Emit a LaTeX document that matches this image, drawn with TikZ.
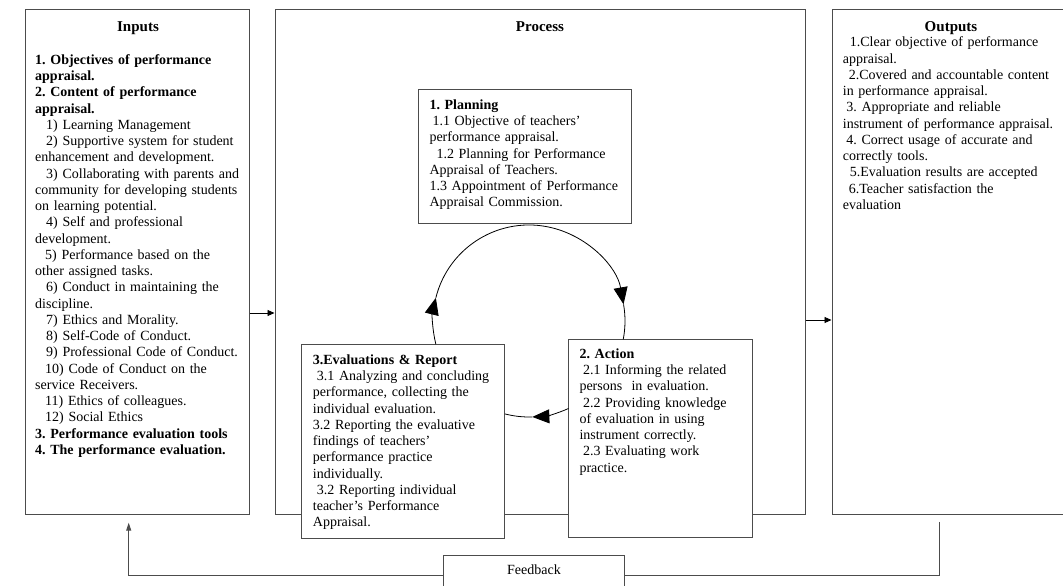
\documentclass[tikz,border=0pt]{standalone}
\usepackage{fontspec}
\setmainfont{Liberation Serif}
\usetikzlibrary{arrows.meta,calc}
\newcommand\myind[1]{\hspace*{#1pt}}
\frenchspacing
\begin{document}
\begin{tikzpicture}[x=1pt,y=1pt,
  frame/.style={draw=black!70, line width=1pt, rectangle, inner sep=0pt},
  innerbox/.style={frame, fill=white},
  txt/.style={anchor=base west, align=left, inner sep=0pt, text width=#1, font=\fontsize{14}{16.25}\selectfont\frenchspacing},
  ttl/.style={anchor=base, inner sep=0pt, font=\fontsize{15}{18}\selectfont\bfseries},
  link/.style={draw=black, line width=0.9pt, -{Triangle[length=7pt,width=6pt]}},
  fbline/.style={draw=black!70, line width=1pt},
  cyc/.style={draw=black, line width=0.8pt},
  cyctip/.style={cyc, -{Triangle[length=17pt,width=14pt]}}
]
\clip (0,0) rectangle (1063,586);
\useasboundingbox (0,0) rectangle (1063,586);

% main boxes
\node[frame, minimum width=224, minimum height=505] (inputs) at (137,323.5) {};
\node[frame, minimum width=530, minimum height=505] (process) at (540,323.5) {};
\node[frame, minimum width=243, minimum height=505] (outputs) at (953.5,323.5) {};

% inner boxes
\node[innerbox, minimum width=213, minimum height=134] (plan) at (524.5,429) {};
\node[innerbox, minimum width=203.3, minimum height=193.3] (eval) at (403.3,144.35) {};
\node[innerbox, minimum width=184, minimum height=198.4] (action) at (660.3,147.5) {};
\node[innerbox, minimum width=181, minimum height=50] (fb) at (533.5,5) {};

% titles
\node[ttl] (tin) at (138,554.5) {Inputs};
\node[ttl] (tproc) at (540,554.5) {Process};
\node[ttl] (tout) at (951,554.5) {Outputs};
\node[anchor=base, inner sep=0pt, font=\fontsize{14}{16}\selectfont] (tfb) at (534,11) {Feedback};

% inputs text
\node[txt=250pt] (intext) at (35,521.5) {%
\textbf{1. Objectives of performance}\\
\textbf{appraisal.}\\
\textbf{2. Content of performance}\\
\textbf{appraisal.}\\
\myind{11}1) Learning Management\\
\myind{11}2) Supportive system for student\\
enhancement and development.\\
\myind{11}3) Collaborating with parents and\\
community for developing students\\
on learning potential.\\
\myind{11}4) Self and professional\\
development.\\
\myind{10}5) Performance based on the\\
other assigned tasks.\\
\myind{11}6) Conduct in maintaining the\\
discipline.\\
\myind{11}7) Ethics and Morality.\\
\myind{11}8) Self-Code of Conduct.\\
\myind{11}9) Professional Code of Conduct.\\
\myind{10}10) Code of Conduct on the\\
service Receivers.\\
\myind{10}11) Ethics of colleagues.\\
\myind{10}12) Social Ethics\\
\textbf{3. Performance evaluation tools}\\
\textbf{4. The performance evaluation.}};

% outputs text
\node[txt=250pt] (outtext) at (842.7,539) {%
\myind{7}1.Clear objective of performance\\
appraisal.\\
\myind{6}2.Covered and accountable content\\
in performance appraisal.\\
\myind{3.5}3. Appropriate and reliable\\
instrument of performance appraisal.\\
\myind{3.5}4. Correct usage of accurate and\\
correctly tools.\\
\myind{7}5.Evaluation results are accepted\\
\myind{6}6.Teacher satisfaction the\\
evaluation};

% planning text
\node[txt=230pt] (plantext) at (429.3,476.5) {%
\textbf{1. Planning}\\
\myind{3}1.1 Objective of teachers’\\
performance appraisal.\\
\myind{7}1.2 Planning for Performance\\
Appraisal of Teachers.\\
1.3 Appointment of Performance\\
Appraisal Commission.};

% evaluation text
\node[txt=230pt] (evaltext) at (312.7,221.5) {%
\textbf{3.Evaluations \& Report}\\
\myind{4}3.1 Analyzing and concluding\\
performance, collecting the\\
individual evaluation.\\
3.2 Reporting the evaluative\\
findings of teachers’\\
performance practice\\
individually.\\
\myind{4}3.2 Reporting individual\\
teacher’s Performance\\
Appraisal.};

% action text
\node[txt=230pt] (actiontext) at (579.3,227.5) {%
\textbf{2. Action}\\
\myind{3.5}2.1 Informing the related\\
persons\ \ in evaluation.\\
\myind{3.5}2.2 Providing knowledge\\
of evaluation in using\\
instrument correctly.\\
\myind{3.5}2.3 Evaluating work\\
practice.};

% input/output connectors
\coordinate (inY) at (0,273);
\coordinate (outY) at (0,266);
\draw[link] (inputs.east |- inY) -- (process.west |- inY);
\draw[link] (process.east |- outY) -- (outputs.west |- outY);

% feedback loop
\coordinate (fbR) at (939,64);
\coordinate (fbL) at (128.7,63.3);
\coordinate (fbY) at (0,10);
\draw[fbline] (fbR) |- (fb.east |- fbY);
\draw[fbline, -{Triangle[length=8pt,width=5pt]}] (fb.west |- fbY) -| (fbL);

% cycle
\coordinate (cyc) at (529,265);
\draw[cyctip] ($(cyc)+(194:96)$) arc[start angle=194,end angle=166,radius=96];
\draw[cyctip] ($(cyc)+(166:96)$) arc[start angle=166,end angle=10,radius=96];
\draw[cyc] ($(cyc)+(10:96)$) arc[start angle=10,end angle=-11,radius=96];
\draw[cyctip] ($(cyc)+(-65.7:96)$) arc[start angle=-65.7,end angle=-88,radius=96];
\draw[cyc] ($(cyc)+(-88:96)$) arc[start angle=-88,end angle=-104.5,radius=96];
\end{tikzpicture}
\end{document}
